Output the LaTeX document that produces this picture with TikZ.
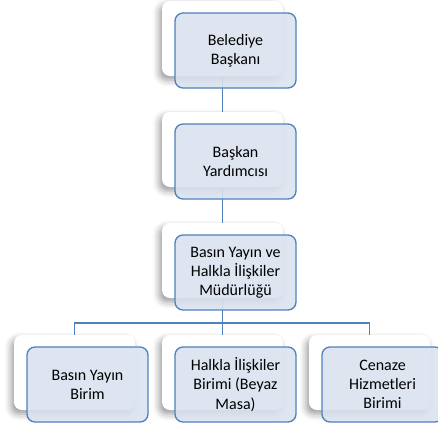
\documentclass[tikz,border=0pt]{standalone}
\usepackage{fontspec}
\setmainfont{Carlito}
\usepackage{xcolor}
\usetikzlibrary{shadows.blur}

\definecolor{orgline}{RGB}{79,129,189}
\definecolor{orgfill}{RGB}{218,226,239}

\tikzset{
  backbox/.style={draw=none, fill=white, rounded corners=6pt,
    minimum width=90.75pt, minimum height=56.25pt, inner sep=0pt,
    blur shadow={shadow xshift=-2pt, shadow yshift=-3pt, shadow blur radius=5pt, shadow opacity=40}},
  frontbox/.style={draw=orgline, line width=1pt, fill=orgfill, fill opacity=0.88, text opacity=1,
    rounded corners=6pt, minimum width=90.75pt, minimum height=56.25pt, inner sep=0pt,
    align=center, font=\fontsize{12}{14.4}\selectfont},
  orglink/.style={draw=orgline, line width=1pt}
}

\begin{document}
\begin{tikzpicture}[x=0.75pt,y=0.75pt,yscale=-1,xscale=1]
    \useasboundingbox (0,0) rectangle (438,430);

    %Shape: Back boxes
    \node [backbox] (bk1) at (222.5,38.5) {};
    \node [backbox] (bk2) at (222.5,149.5) {};
    \node [backbox] (bk3) at (222.5,260.5) {};
    \node [backbox] (bkA) at (74.5,372.5) {};
    \node [backbox] (bkB) at (222.5,372.5) {};
    \node [backbox] (bkC) at (369.5,372.5) {};

    %Straight Lines
    \coordinate (bus) at (222.5,323);
    \draw [orglink] (bk1.south) -- (bk2.north);
    \draw [orglink] (bk2.south) -- (bk3.north);
    \draw [orglink] (bk3.south) -- (bus);
    \draw [orglink] (bkA.north) |- (bus) -| (bkC.north);
    \draw [orglink] (bus) -- (bkB.north);

    % Text Node
    \node [frontbox] (baskan) at (235.5,50.5) {Belediye\\Başkanı};
    % Text Node
    \node [frontbox] (yardimci) at (235.5,161.5) {Başkan\\Yardımcısı};
    % Text Node
    \node [frontbox] (mudurluk) at (235.5,272.5) {Basın Yayın ve\\Halkla İlişkiler\\Müdürlüğü};
    % Text Node
    \node [frontbox] (basin) at (87.5,384.5) {Basın Yayın\\Birim};
    % Text Node
    \node [frontbox] (halkla) at (235.5,384.5) {Halkla İlişkiler\\Birimi (Beyaz\\Masa)};
    % Text Node
    \node [frontbox] (cenaze) at (382.5,384.5) {Cenaze\\Hizmetleri\\Birimi};

\end{tikzpicture}
\end{document}
